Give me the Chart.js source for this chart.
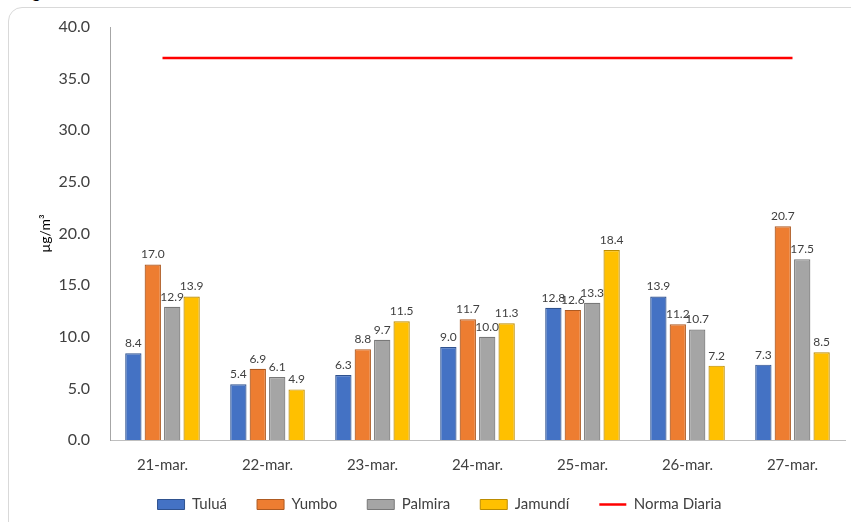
<!DOCTYPE html>
<html>
<head>
<meta charset="utf-8">
<script src="https://cdn.jsdelivr.net/npm/chart.js@4.4.1/dist/chart.umd.min.js"></script>
<style>
  html, body { margin: 0; padding: 0; background: #fff; overflow: hidden; }
  #frame { position: absolute; left: 8px; top: 7px; width: 900px; height: 600px; border: 1px solid #d9d9d9; border-radius: 14px; }
  #ttl { position: absolute; left: 18px; top: -19px; line-height: 20px; font: bold 17px Lato, "Liberation Sans", sans-serif; color: #000; }
  #wrap { position: absolute; left: 0; top: 0; width: 851px; height: 522px; }
</style>
</head>
<body>
<div id="frame"></div>
<div id="ttl">Fig</div>
<div id="wrap"><canvas id="c"></canvas></div>
<script>
const categories = ["21-mar.", "22-mar.", "23-mar.", "24-mar.", "25-mar.", "26-mar.", "27-mar."];
const tulua   = [8.4, 5.4, 6.3, 9.0, 12.8, 13.9, 7.3];
const yumbo   = [17.0, 6.9, 8.8, 11.7, 12.6, 11.2, 20.7];
const palmira = [12.9, 6.1, 9.7, 10.0, 13.3, 10.7, 17.5];
const jamundi = [13.9, 4.9, 11.5, 11.3, 18.4, 7.2, 8.5];
const normaDiaria = [37, 37, 37, 37, 37, 37, 37];

const FONT = 'Lato, "Liberation Sans", sans-serif';
const TXT = '#404040';

function barDs(label, data, bg, border) {
  return { type: 'bar', label, data, backgroundColor: bg, borderColor: border, borderWidth: 1.2, order: 1,
           categoryPercentage: 0.74, barPercentage: 0.84 };
}

const dataLabels = {
  id: 'dataLabels',
  afterDatasetsDraw(chart) {
    const ctx = chart.ctx;
    ctx.save();
    ctx.font = '12px ' + FONT;
    ctx.fillStyle = TXT;
    ctx.textAlign = 'center';
    ctx.textBaseline = 'bottom';
    chart.data.datasets.forEach((ds, i) => {
      if (ds.type !== 'bar') return;
      const meta = chart.getDatasetMeta(i);
      meta.data.forEach((el, j) => {
        ctx.fillText(ds.data[j].toFixed(1), el.x, el.y - 4);
      });
    });
    ctx.restore();
  }
};

const legendPlace = {
  id: 'legendPlace',
  afterInit(chart) {
    const lg = chart.legend;
    const orig = lg.fit.bind(lg);
    lg.fit = function () { orig(); this.height = 38; };
  },
  afterLayout(chart) {
    chart.legend.top -= 17;
  }
};

new Chart(document.getElementById('c'), {
  data: {
    labels: categories,
    datasets: [
      barDs('Tuluá', tulua, '#4472C4', '#2F528F'),
      barDs('Yumbo', yumbo, '#ED7D31', '#AE5A21'),
      barDs('Palmira', palmira, '#A5A5A5', '#787878'),
      barDs('Jamundí', jamundi, '#FFC000', '#BC8C00'),
      { type: 'line', label: 'Norma Diaria', data: normaDiaria, borderColor: '#FF0000', backgroundColor: '#FF0000',
        borderWidth: 2.5, pointRadius: 0, order: 0 }
    ]
  },
  options: {
    responsive: true,
    maintainAspectRatio: false,
    animation: false,
    layout: { padding: { left: 34, right: 6, top: 27, bottom: 0 } },
    plugins: {
      tooltip: { enabled: false },
      legend: {
        position: 'bottom',
        labels: {
          font: { size: 15, family: FONT },
          color: TXT,
          usePointStyle: true,
          pointStyleWidth: 27,
          boxHeight: 10,
          padding: 30,
          sort: (a, b) => a.datasetIndex - b.datasetIndex,
          generateLabels(chart) {
            const items = Chart.defaults.plugins.legend.labels.generateLabels(chart);
            return items.map(it => {
              const ds = chart.data.datasets[it.datasetIndex];
              if (ds.type === 'line') {
                it.pointStyle = 'line'; it.strokeStyle = '#FF0000'; it.lineWidth = 2.5;
              } else {
                it.pointStyle = 'rect'; it.fillStyle = ds.backgroundColor; it.strokeStyle = ds.borderColor; it.lineWidth = 1;
              }
              return it;
            });
          }
        }
      }
    },
    scales: {
      x: {
        grid: { display: false },
        border: { display: true, color: '#bfbfbf' },
        ticks: { font: { size: 15, family: FONT }, color: TXT, padding: 8 },
        afterFit(s) { s.height = 44; }
      },
      y: {
        min: 0, max: 40,
        grid: { display: false },
        border: { display: true, color: '#a6a6a6' },
        ticks: { stepSize: 5, font: { size: 16, family: FONT }, color: TXT, padding: 12,
                 callback: v => Number(v).toFixed(1) },
        title: { display: true, text: 'µg/m³', font: { size: 14, family: FONT }, color: '#000', padding: 3 },
        afterFit(s) { s.width = 76; }
      }
    }
  },
  plugins: [dataLabels, legendPlace]
});
</script>
</body>
</html>
